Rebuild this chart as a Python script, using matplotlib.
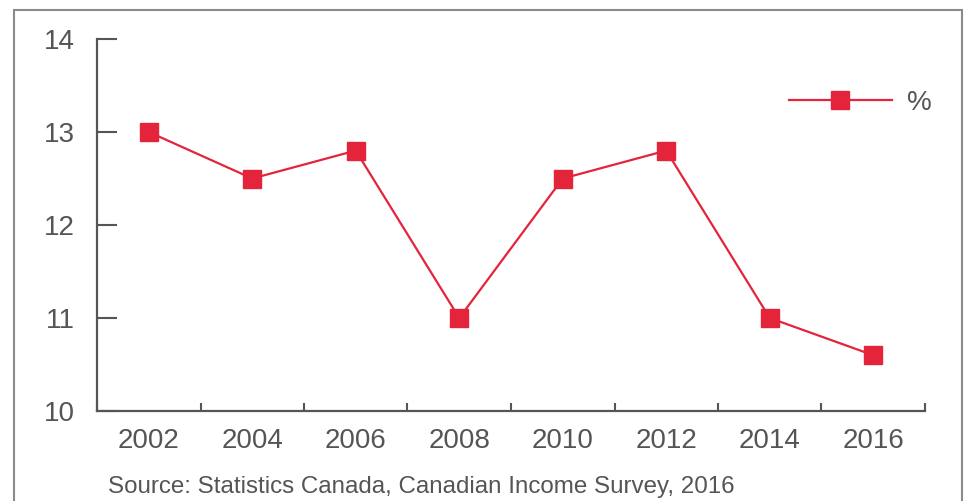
import matplotlib
matplotlib.use("Agg")
import matplotlib.pyplot as plt
from matplotlib.patches import Rectangle
import numpy as np

years = ["2002", "2004", "2006", "2008", "2010", "2012", "2014", "2016"]
values = [13.0, 12.5, 12.8, 11.0, 12.5, 12.8, 11.0, 10.6]
series_name = "%"
source = "Source: Statistics Canada, Canadian Income Survey, 2016"

plt.rcParams['font.family'] = ['Liberation Sans', 'DejaVu Sans']
W, H = 964, 501
fig = plt.figure(figsize=(W/100, H/100), dpi=100)
ax = fig.add_axes([97/W, 1-411/H, (925-97)/W, (411-39)/H])

red = "#E3243B"
gray = "#555555"
x = np.arange(len(years))
ax.plot(x, values, color=red, lw=1.6, marker='s', markersize=13, label=series_name)

ax.set_xlim(-0.5, len(years)-0.5)
ax.set_ylim(10, 14)
ax.set_yticks([10, 11, 12, 13, 14])
ax.set_xticks(x)
ax.set_xticklabels(years)
ax.set_xticks(np.arange(-0.5, len(years)), minor=True)
ax.tick_params(axis='x', which='major', length=0, pad=12, labelsize=20, labelcolor=gray)
ax.tick_params(axis='x', which='minor', direction='in', length=6, width=1.5, color=gray)
ax.tick_params(axis='y', direction='in', length=14.5, width=1.5, color=gray, pad=16,
               labelsize=20, labelcolor=gray)
for s in ['top', 'right']:
    ax.spines[s].set_visible(False)
for s in ['left', 'bottom']:
    ax.spines[s].set_color(gray)
    ax.spines[s].set_linewidth(1.6)

leg = ax.legend(loc='center left', bbox_to_anchor=(764/W, 1-103/H), bbox_transform=fig.transFigure,
                frameon=False, fontsize=20, handlelength=3.7, handletextpad=0.55, labelcolor=gray)

fig.text(108/W, 1-487/H, source, fontsize=17.4, color=gray, va='center', ha='left')

fig.patches.append(Rectangle((14/W, -0.05), (962-14)/W, 1.05-10/H, transform=fig.transFigure,
                             fill=False, edgecolor="#8a8a8a", lw=1.5))

fig.savefig("out.png", dpi=100)
